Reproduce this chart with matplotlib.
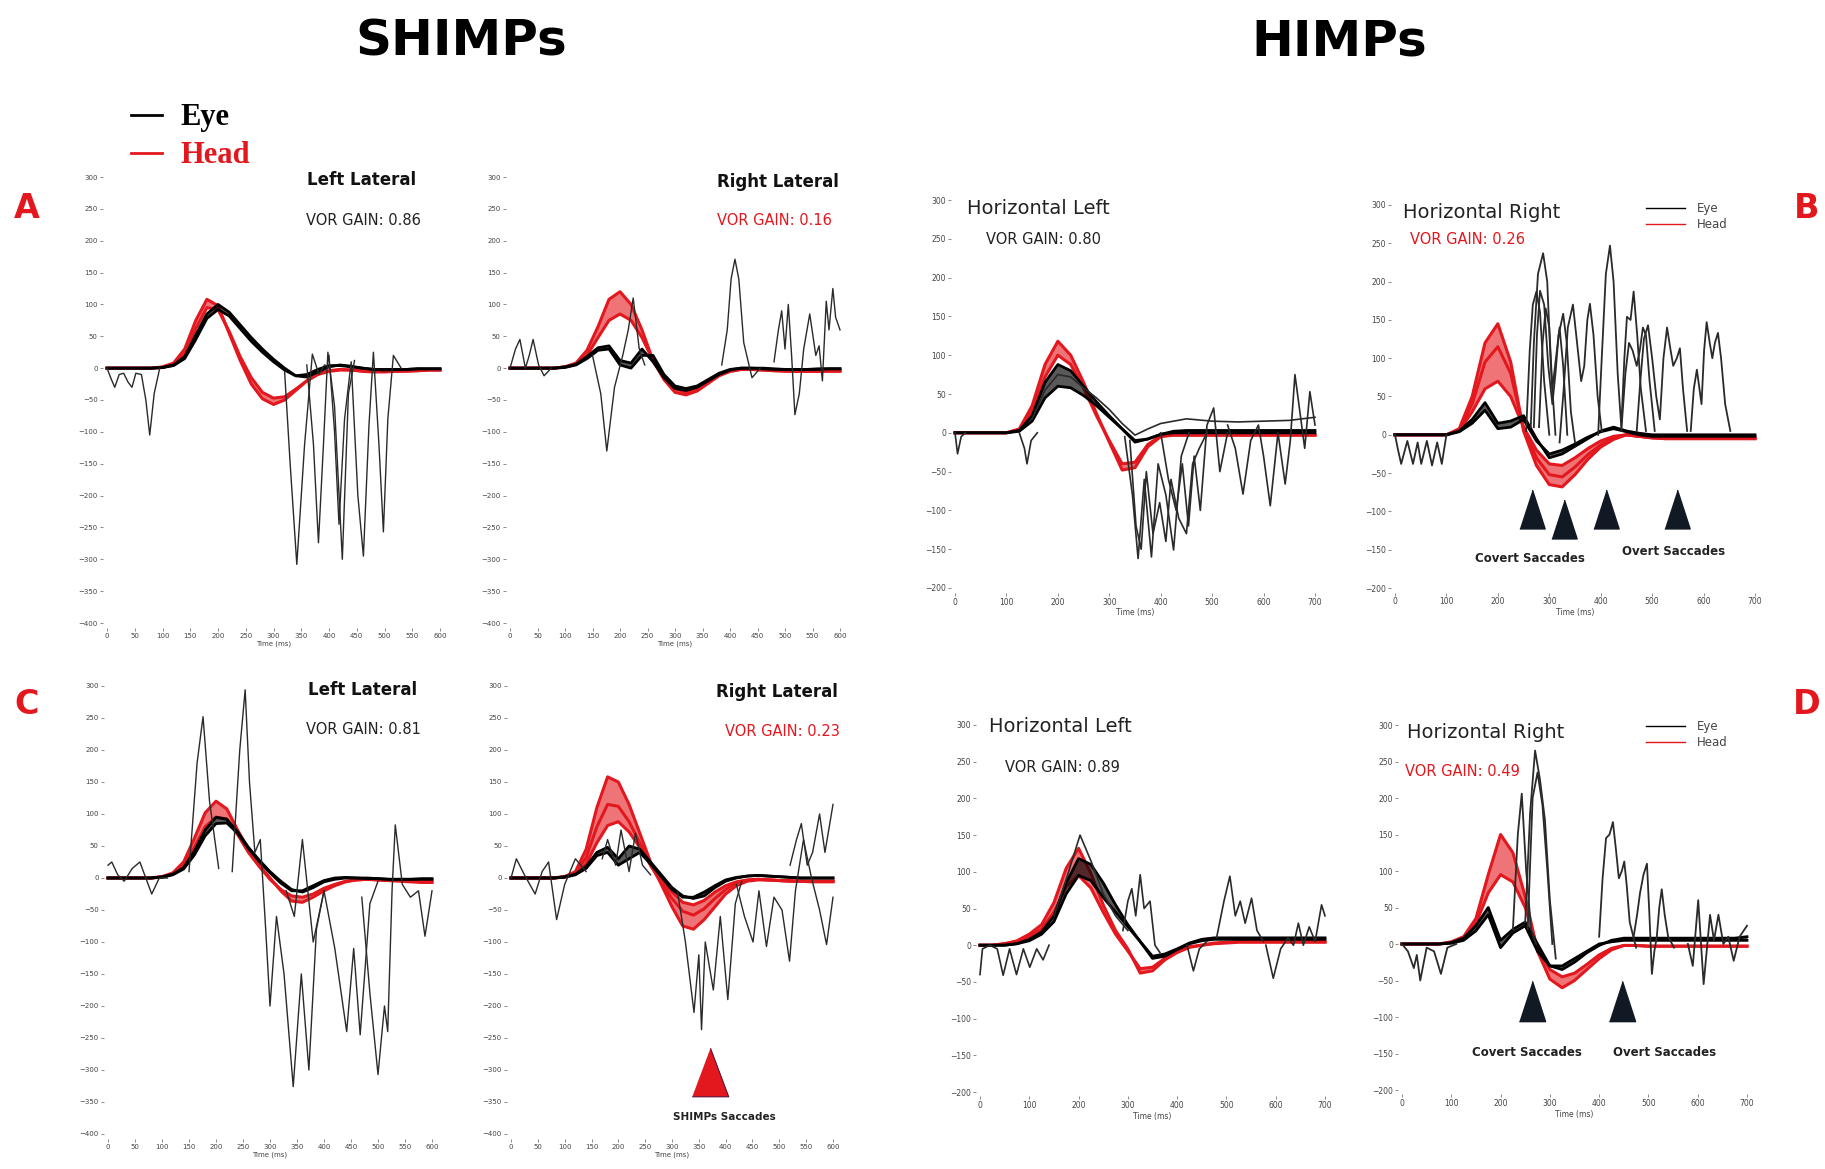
import numpy as np
import matplotlib
matplotlib.use("Agg")
import matplotlib.pyplot as plt
from matplotlib.lines import Line2D

plt.rcParams['font.family'] = ['DejaVu Sans']

W, H = 1825, 1169
RED = "#e3181f"
SACC = "#2a2a2a"

# sample grids (ms)
t_s = np.arange(0, 601, 20)   # SHIMPs panels
t_h = np.arange(0, 701, 25)   # HIMPs panels

# ---------------- A: SHIMPs, patient 1 ----------------
A1_HEAD = [[0,0,0,0,0,2,8,30,75,108,98,55,12,-25,-48,-57,-50,-35,-20,-9,-4,-2,-3,-5,-6,-6,-5,-5,-4,-3,-3],
           [0,0,0,0,0,1,5,22,62,95,92,58,18,-15,-38,-47,-45,-33,-20,-10,-5,-3,-3,-4,-5,-5,-5,-4,-4,-3,-3]]
A1_EYE = [[0,0,0,0,0,1,5,18,52,85,100,88,68,48,30,14,0,-12,-14,-6,2,5,3,0,-2,-2,-2,-2,-1,-1,-1],
          [0,0,0,0,0,1,4,15,45,78,92,82,62,42,25,10,-3,-12,-10,-2,4,4,2,0,-2,-3,-2,-2,-1,-1,-1]]
A1_SACC = [([0,8,14,22,30,38,45,52,62,70,77,85,95], [0,-18,-30,-10,-8,-22,-30,-8,-10,-50,-105,-40,0]),
           ([320,330,342,356,370,382,392,402], [-5,-150,-308,-120,22,-10,5,0]),
           ([360,372,381,390,398,410,424,435,446], [5,-120,-274,-120,25,-60,-300,-40,12]),
           ([400,410,418,428,440,452,462,472,480,490,498,506,516,530],
            [20,-100,-245,-80,10,-200,-295,-90,25,-120,-257,-80,20,0])]

A2_HEAD = [[0,0,0,0,0,2,8,28,65,108,120,100,60,12,-18,-38,-42,-36,-24,-12,-5,-2,-2,-3,-4,-5,-5,-5,-5,-5,-5],
           [0,0,0,0,0,2,6,20,48,75,85,75,48,12,-15,-32,-38,-33,-22,-11,-5,-2,-2,-3,-4,-4,-5,-5,-5,-4,-4]]
A2_EYE = [[0,0,0,0,0,2,6,18,32,35,12,8,30,10,-15,-32,-35,-30,-20,-10,-3,0,0,-1,-2,-2,-2,-2,-2,-1,-1],
          [0,0,0,0,0,1,5,15,28,30,5,0,20,20,-10,-28,-32,-28,-18,-8,-2,0,0,0,-1,-2,-2,-2,-1,-1,-1]]
A2_SACC = [([0,10,18,28,35,42,52,62,75], [0,30,45,0,20,45,5,-12,0]),
           ([150,165,176,190,205,215,224,235,245], [20,-40,-130,-30,20,60,110,30,5]),
           ([385,395,402,409,416,425,440,455], [5,60,140,171,140,40,-15,0]),
           ([480,488,494,500,506,512,518,526,534,545,556,562,568,575,580,587,592,600],
            [10,60,90,30,100,20,-73,-40,30,85,20,35,-20,105,60,125,80,60])]

# ---------------- C: SHIMPs, patient 2 ----------------
C1_HEAD = [[0,0,0,0,0,2,8,25,62,102,120,108,75,45,20,0,-20,-36,-38,-30,-20,-12,-6,-3,-2,-3,-4,-5,-6,-7,-7],
           [0,0,0,0,0,2,6,18,48,80,95,92,68,40,18,-2,-18,-28,-30,-25,-16,-10,-5,-3,-2,-3,-4,-4,-5,-5,-5]]
C1_EYE = [[0,0,0,0,0,2,6,16,42,75,95,92,72,48,28,10,-5,-18,-22,-15,-6,-2,0,0,0,-1,-2,-2,-2,-2,-2],
          [0,0,0,0,0,1,5,14,36,66,85,86,70,46,26,8,-8,-20,-20,-12,-4,0,1,0,-1,-1,-2,-2,-2,-1,-1]]
C1_SACC = [([0,7,18,30,45,59,70,81,95,110], [20,25,5,-5,15,25,0,-25,0,0]),
           ([150,165,176,188,205], [10,180,252,120,15]),
           ([230,244,254,262,272,282,292,300,312,326,343,358,372,386,400],
            [10,200,294,150,40,60,-80,-200,-60,-150,-326,-150,-300,-80,-20]),
           ([330,345,360,380,400,420,442,455,467,485,500],
            [-20,-60,60,-100,-20,-110,-240,-110,-245,-40,-5]),
           ([470,485,500,512,518,526,532,545,560,575,587,600],
            [-30,-180,-307,-200,-240,-20,83,-10,-30,-20,-91,-20])]

C2_HEAD = [[0,0,0,0,0,2,10,45,110,158,150,115,70,25,-10,-45,-75,-80,-65,-45,-25,-12,-5,-3,-3,-4,-5,-5,-6,-6,-6],
           [0,0,0,0,0,2,8,32,80,115,112,88,55,20,-8,-32,-52,-58,-48,-32,-18,-8,-4,-2,-3,-4,-5,-5,-5,-5,-5],
           [0,0,0,0,0,2,6,22,55,82,88,72,48,20,-4,-22,-38,-42,-35,-22,-12,-6,-3,-2,-3,-4,-4,-5,-5,-5,-5]]
C2_EYE = [[0,0,0,0,0,2,6,18,40,48,30,50,45,25,5,-15,-28,-32,-28,-15,-5,0,3,4,3,2,1,0,0,0,0],
          [0,0,0,0,0,1,5,15,35,40,20,30,40,22,2,-18,-30,-30,-22,-12,-3,1,3,4,3,2,1,0,0,0,0]]
C2_SACC = [([0,10,25,45,58,70,85,100,120,140], [0,30,5,-25,10,25,-65,-10,30,10]),
           ([170,180,195,205,220,232,245,260], [30,60,20,75,10,70,20,5]),
           ([310,325,341,350,355,362,377,390,404,418,430],
            [-20,-100,-210,-120,-237,-100,-175,-60,-190,-40,-5]),
           ([420,435,451,462,476,490,505,519,530,545,560,575,588,600],
            [-10,-60,-100,-20,-107,-30,-50,-130,-20,60,0,-50,-104,-30]),
           ([520,532,541,552,562,575,585,593,600], [20,60,85,20,40,100,40,80,115])]

# ---------------- B: HIMPs, patient 1 ----------------
B1_HEAD = [[0,0,0,0,0,5,35,88,118,100,65,25,-12,-48,-45,-18,-5,-3,-3,-3,-3,-3,-3,-3,-3,-3,-3,-3,-3],
           [0,0,0,0,0,4,28,72,100,88,58,22,-10,-40,-38,-15,-4,-3,-3,-3,-3,-3,-3,-3,-3,-3,-3,-3,-3]]
B1_EYE = [[0,0,0,0,0,3,22,65,88,80,60,40,22,5,-12,-8,-2,2,3,3,3,3,3,3,3,3,3,3,3],
          [0,0,0,0,0,2,15,45,60,58,48,35,20,5,-10,-8,-2,0,0,0,0,0,0,0,0,0,0,0,0]]
B1_SACC = [([0,5,12,20], [0,-27,-5,0]),
           ([125,135,140,148,160], [0,-20,-40,-10,0]),
           ([150,175,200,225,250,275,300,325,350,375,400,450,500,550,600,650,700],
            [18,55,75,72,58,45,30,12,-3,5,12,18,15,14,15,16,20]),
           ([330,345,356,368,382,395,410,425,440,455], [-5,-80,-162,-60,-160,-40,-80,-151,-30,0]),
           ([340,352,362,372,385,398,410,420,435,450,462,475,490],
            [-10,-120,-150,-50,-130,-90,-140,-60,-110,-130,-40,-20,0]),
           ([400,415,430,442,454,465,477,490,503,515,530], [0,-60,-100,-40,-120,-30,-100,10,32,-50,0]),
           ([530,545,560,575,590,600,613,628,642,652,661,672,680,690,700],
            [10,-20,-79,-10,10,-30,-94,0,-66,-10,75,20,-20,53,10])]

B2_HEAD = [[0,0,0,0,0,8,50,120,145,95,5,-40,-65,-68,-52,-32,-16,-6,0,-2,-4,-5,-5,-5,-5,-5,-5,-5,-5],
           [0,0,0,0,0,6,40,95,115,80,8,-30,-52,-55,-42,-26,-13,-4,0,-2,-4,-5,-5,-5,-5,-5,-5,-5,-5],
           [0,0,0,0,0,5,30,60,70,50,10,-20,-38,-40,-30,-18,-8,-2,0,-2,-3,-4,-4,-4,-4,-4,-4,-4,-4]]
B2_EYE = [[0,0,0,0,0,5,20,42,15,18,25,-5,-30,-25,-15,-5,5,10,5,2,0,0,0,0,0,0,0,0,0],
          [0,0,0,0,0,4,15,32,8,10,20,-8,-25,-20,-12,-3,4,8,4,0,-2,-2,-2,-2,-2,-2,-2,-2,-2]]
B2_SACC = [([0,6,12,24,35,44,51,62,72,82,91,100], [0,-20,-38,-8,-38,-10,-38,-8,-40,-10,-38,0]),
           ([255,262,268,275,282,290,300], [5,110,170,187,160,70,0]),
           ([264,270,278,288,296,303,312], [10,120,210,237,200,90,0]),
           ([270,276,282,290,298,306,312,318,327,334,342,350],
            [10,130,188,170,90,40,80,130,158,120,30,-10]),
           ([280,287,293,300,306,313,320,327,335], [10,120,165,140,60,100,140,90,0]),
           ([320,328,336,346,354,362,368,374,379,386,394,402],
            [-10,60,140,170,120,70,90,150,171,130,50,5]),
           ([395,402,410,418,425,433,440,446,451,458,464,471,478,488],
            [0,100,210,247,200,80,10,100,154,150,187,130,60,5]),
           ([440,448,455,462,470,476,482,488,495,505], [5,80,120,110,90,110,140,130,70,5]),
           ([470,477,484,492,500,508,515,522,529,536,541,548,554,560,568],
            [5,70,125,143,100,50,20,100,140,110,90,100,113,60,5]),
           ([575,581,587,592,596,601,606,612,617,622,628,634,642,652],
            [5,60,85,60,40,110,147,120,100,120,133,100,40,5])]

# ---------------- D: HIMPs, patient 2 ----------------
D1_HEAD = [[0,0,2,6,15,28,58,105,132,98,55,20,-5,-38,-35,-20,-10,-3,0,3,4,5,5,5,5,5,5,5,5],
           [0,0,2,5,12,22,45,80,95,78,45,15,-8,-32,-30,-18,-8,-2,0,2,3,4,4,4,4,4,4,4,4]]
D1_EYE = [[0,0,0,2,8,18,40,85,118,110,85,55,28,5,-15,-12,-5,3,8,10,10,10,10,10,10,10,10,10,10],
          [0,0,0,2,6,15,32,70,95,88,65,45,25,5,-18,-15,-6,2,6,8,8,8,8,8,8,8,8,8,8]]
D1_SACC = [([0,5,20,35,47,60,74,88,101,115,128,140], [-40,-5,0,-5,-41,-5,-40,-5,-30,-5,-20,0]),
           ([150,175,203,225,250,275,300], [40,90,150,115,70,40,20]),
           ([290,300,308,316,325,333,345,355,365], [20,60,77,40,96,50,60,0,-10]),
           ([420,433,445,460], [0,-35,-5,5]),
           ([480,495,507,518,528,538,551,562,575], [10,60,94,40,60,30,64,20,5]),
           ([580,595,610,625,636,646,656,668,680,693,700], [0,-45,-5,10,0,30,0,25,5,55,40])]

D2_HEAD = [[0,0,0,0,3,10,35,95,150,125,65,-10,-48,-60,-50,-35,-20,-8,-2,-2,-3,-3,-3,-3,-3,-3,-3,-3,-3],
           [0,0,0,0,2,8,28,70,95,85,50,-5,-35,-45,-40,-28,-15,-6,-2,-2,-3,-3,-3,-3,-3,-3,-3,-3,-3]]
D2_EYE = [[0,0,0,0,2,8,25,50,5,20,30,0,-30,-35,-25,-12,-2,5,8,8,8,8,8,8,8,8,8,8,10],
          [0,0,0,0,1,5,18,40,-5,15,25,-10,-30,-30,-20,-10,0,3,5,5,5,5,5,5,5,5,5,5,5]]
D2_SACC = [([0,12,24,30,37,50,65,79,92,110], [0,-10,-33,-15,-50,-5,-10,-41,-5,0]),
           ([225,235,243,252,262,272], [20,150,206,100,20,0]),
           ([250,260,270,280,290,300,312], [30,180,265,225,170,60,-20]),
           ([255,265,275,285,295,305], [20,200,235,190,100,0]),
           ([400,407,414,421,428,434,440,446,451,456,462,475], [10,90,145,150,167,130,90,100,113,80,30,-5]),
           ([470,477,483,490,497,502,507,512,517,522,527,533,540,552], [10,40,70,95,110,40,-41,-10,10,50,75,40,10,-5]),
           ([580,590,601,612,625,633,642,652,662,673,685,700], [0,-30,60,-55,40,5,40,0,10,-23,10,25])]

# saccade markers
B2_ARROW_T = [267, 329, 410, 548]
B2_ARROW_Y = [-97, -110, -97, -97]
D2_ARROW_T = [264, 446]
D2_ARROW_Y = [-78, -78]
C2_ARROW_T = [371]
C2_ARROW_Y = [-303]

fig = plt.figure(figsize=(W / 100, H / 100), dpi=100)
fig.patch.set_facecolor("white")


def fx(px):
    return px / W


def fy(py):
    return 1 - py / H


def make_axes(px0, px1, py_top, py_bot, xr, yr, xpad, ypad):
    sx = (px1 - px0) / (xr[1] - xr[0])
    sy = (py_bot - py_top) / (yr[1] - yr[0])
    left = px0 - xpad * sx
    width = (xr[1] - xr[0] + 2 * xpad) * sx
    top = py_top - ypad * sy
    height = (yr[1] - yr[0] + 2 * ypad) * sy
    ax = fig.add_axes([left / W, 1 - (top + height) / H, width / W, height / H])
    ax.set_xlim(xr[0] - xpad, xr[1] + xpad)
    ax.set_ylim(yr[0] - ypad, yr[1] + ypad)
    for s in ax.spines.values():
        s.set_visible(False)
    ax.patch.set_alpha(0)
    return ax


def draw(ax, t, heads, eyes, saccs, xticks, yticks, fs, sacc_lw=1.0):
    # head band
    ax.fill_between(t, heads[-1], heads[0], color=RED, alpha=0.6, lw=0, zorder=2)
    for h in heads:
        ax.plot(t, h, color=RED, lw=2.2, zorder=3, solid_joinstyle="round")
    # eye band
    ax.fill_between(t, eyes[-1], eyes[0], color="black", alpha=0.65, lw=0, zorder=4)
    for e in eyes:
        ax.plot(t, e, color="black", lw=2.0, zorder=5, solid_joinstyle="round")
    for st, sv in saccs:
        ax.plot(st, sv, color=SACC, lw=sacc_lw, zorder=6)
    ax.set_xticks(xticks)
    ax.set_yticks(yticks)
    ax.tick_params(labelsize=fs, length=2.5, width=0.6, color="#777777",
                   labelcolor="#444444", pad=1)
    ax.set_xlabel("Time (ms)", fontsize=fs, color="#444444", labelpad=1)


sx_ticks = list(range(0, 601, 50))
sy_ticks = list(range(-400, 301, 50))
hx_ticks = list(range(0, 701, 100))
hy_ticks = list(range(-200, 301, 50))

axA1 = make_axes(107, 440, 177, 623, (0, 600), (-400, 300), 8, 8)
draw(axA1, t_s, A1_HEAD, A1_EYE, A1_SACC, sx_ticks, sy_ticks, 5)
axA2 = make_axes(510, 840, 177, 623, (0, 600), (-400, 300), 8, 8)
draw(axA2, t_s, A2_HEAD, A2_EYE, A2_SACC, sx_ticks, sy_ticks, 5)
axC1 = make_axes(108, 432, 686, 1134, (0, 600), (-400, 300), 8, 8)
draw(axC1, t_s, C1_HEAD, C1_EYE, C1_SACC, sx_ticks, sy_ticks, 5)
axC2 = make_axes(511, 833, 686, 1134, (0, 600), (-400, 300), 8, 8)
draw(axC2, t_s, C2_HEAD, C2_EYE, C2_SACC, sx_ticks, sy_ticks, 5)

axB1 = make_axes(955, 1315, 200, 588, (0, 700), (-200, 300), 8, 6)
draw(axB1, t_h, B1_HEAD, B1_EYE, B1_SACC, hx_ticks, hy_ticks, 5.5, 1.2)
axB2 = make_axes(1395, 1755, 205, 588, (0, 700), (-200, 300), 8, 6)
draw(axB2, t_h, B2_HEAD, B2_EYE, B2_SACC, hx_ticks, hy_ticks, 5.5, 1.3)
axD1 = make_axes(980, 1325, 725, 1092, (0, 700), (-200, 300), 8, 6)
draw(axD1, t_h, D1_HEAD, D1_EYE, D1_SACC, hx_ticks, hy_ticks, 5.5, 1.2)
axD2 = make_axes(1402, 1747, 725, 1090, (0, 700), (-200, 300), 8, 6)
draw(axD2, t_h, D2_HEAD, D2_EYE, D2_SACC, hx_ticks, hy_ticks, 5.5, 1.3)

# saccade arrowheads
tri = [(-0.65, -1), (0.65, -1), (0, 1)]
axB2.scatter(B2_ARROW_T, B2_ARROW_Y, marker=tri, s=28 ** 2, color="#111a24", zorder=8)
axD2.scatter(D2_ARROW_T, D2_ARROW_Y, marker=tri, s=29 ** 2, color="#111a24", zorder=8)
axC2.scatter(C2_ARROW_T, C2_ARROW_Y, marker=[(-0.75, -1), (0.75, -1), (0, 1)], s=35 ** 2,
             color=RED, edgecolor="#5a1030", linewidth=0.8, zorder=8)

tk = dict(fontsize=8.5, fontweight="bold", ha="center", va="center", color="#222222")
axB2.text(263, -162, "Covert Saccades", **tk)
axB2.text(541, -153, "Overt Saccades", **tk)
axD2.text(253, -149, "Covert Saccades", **tk)
axD2.text(533, -149, "Overt Saccades", **tk)
axC2.text(398, -373, "SHIMPs Saccades", fontsize=7.5, fontweight="bold", ha="center",
          va="center", color="#222222")

# small legends in the HIMPs right panels
for axl, ytop in ((axB2, 196), (axD2, 714)):
    axl.legend([Line2D([], [], color="black", lw=1), Line2D([], [], color=RED, lw=1)],
               ["Eye", "Head"], loc="upper left", bbox_to_anchor=(fx(1640), fy(ytop)),
               bbox_transform=fig.transFigure, frameon=False, fontsize=8.5,
               handlelength=3.3, handletextpad=1.0, labelspacing=0.3, borderpad=0,
               labelcolor="#444444")


# panel titles and gains
def ftext(px, py, s, **kw):
    fig.text(fx(px), fy(py), s, ha="center", va="center", **kw)


ftext(362, 180, "Left Lateral", fontsize=12, fontweight="bold", color="#111111")
ftext(363, 220, "VOR GAIN: 0.86", fontsize=10.5, color="#222222")
ftext(778, 182, "Right Lateral", fontsize=12, fontweight="bold", color="#111111")
ftext(774, 220, "VOR GAIN: 0.16", fontsize=10.5, color=RED)
ftext(363, 690, "Left Lateral", fontsize=12, fontweight="bold", color="#111111")
ftext(363, 729, "VOR GAIN: 0.81", fontsize=10.5, color="#222222")
ftext(777, 692, "Right Lateral", fontsize=12, fontweight="bold", color="#111111")
ftext(782, 732, "VOR GAIN: 0.23", fontsize=10.5, color=RED)

ftext(1038, 208, "Horizontal Left", fontsize=14, color="#222222")
ftext(1043, 240, "VOR GAIN: 0.80", fontsize=10.5, color="#222222")
ftext(1482, 212, "Horizontal Right", fontsize=14, color="#222222")
ftext(1468, 240, "VOR GAIN: 0.26", fontsize=10.5, color=RED)
ftext(1060, 727, "Horizontal Left", fontsize=14, color="#222222")
ftext(1062, 768, "VOR GAIN: 0.89", fontsize=10.5, color="#222222")
ftext(1486, 732, "Horizontal Right", fontsize=14, color="#222222")
ftext(1462, 772, "VOR GAIN: 0.49", fontsize=10.5, color=RED)

# big headings
ftext(461, 41, "SHIMPs", fontsize=36, fontweight="bold", color="black")
ftext(1339, 41, "HIMPs", fontsize=36, fontweight="bold", color="black")

# panel letters
for px, py, s in ((27, 208, "A"), (27, 704, "C"), (1807, 208, "B"), (1807, 704, "D")):
    ftext(px, py, s, fontsize=24, fontweight="bold", color=RED)

# main legend
leg = fig.legend([Line2D([], [], color="black", lw=2), Line2D([], [], color=RED, lw=2)],
                 ["Eye", "Head"], loc="upper left", bbox_to_anchor=(fx(116), fy(88)),
                 frameon=False, borderpad=0, handlelength=1.0, handletextpad=0.6,
                 labelspacing=0.3,
                 prop=dict(family="Liberation Serif", weight="bold", size=22))
leg.get_texts()[1].set_color(RED)

fig.savefig("out.png", dpi=100, facecolor="white")
